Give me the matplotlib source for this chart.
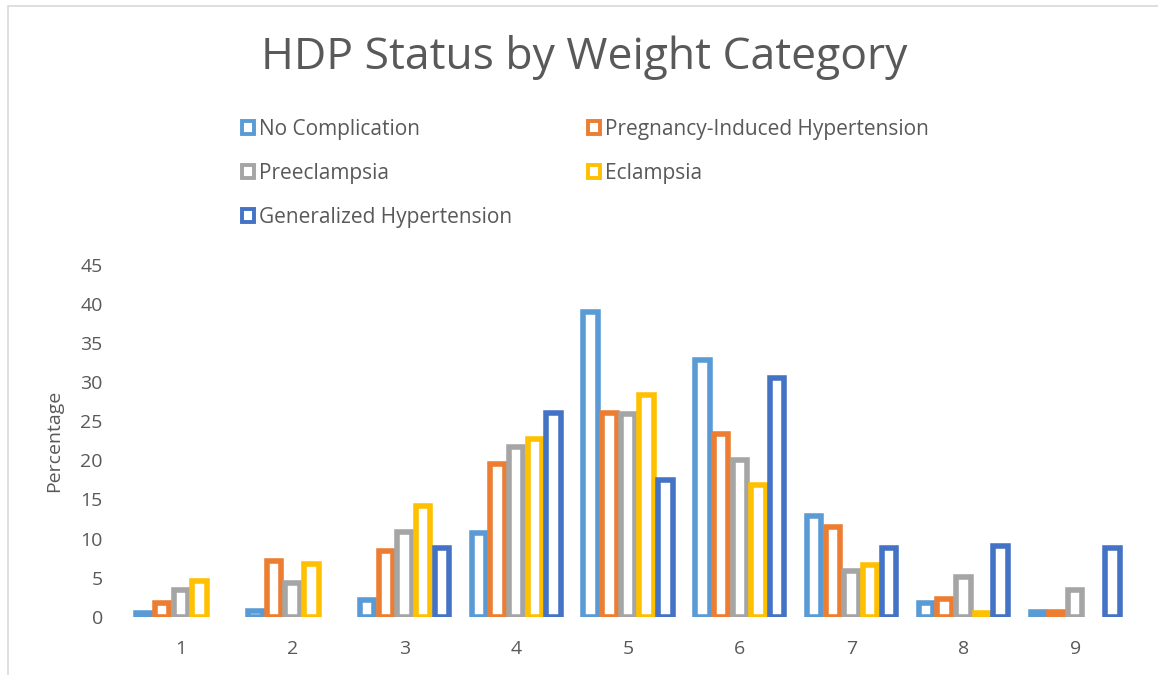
import matplotlib
matplotlib.use("Agg")
import matplotlib.pyplot as plt
from matplotlib.patches import Patch, Rectangle
import numpy as np

plt.rcParams['font.family'] = ['Open Sans', 'DejaVu Sans']

categories = ["1", "2", "3", "4", "5", "6", "7", "8", "9"]
series_names = ["No Complication", "Pregnancy-Induced Hypertension", "Preeclampsia",
                "Eclampsia", "Generalized Hypertension"]
no_complication = [0.5, 0.7, 2.1, 10.7, 39.0, 32.8, 12.9, 1.8, 0.6]
pregnancy_induced = [1.8, 7.1, 8.4, 19.5, 26.1, 23.4, 11.5, 2.3, 0.6]
preeclampsia = [3.4, 4.3, 10.9, 21.7, 25.9, 20.0, 5.9, 5.1, 3.4]
eclampsia = [4.6, 6.7, 14.2, 22.8, 28.4, 16.8, 6.6, 0.5, 0.0]
generalized = [0.0, 0.0, 8.8, 26.1, 17.5, 30.5, 8.8, 9.1, 8.8]
colors = ["#5B9BD5", "#ED7D31", "#A5A5A5", "#FFC000", "#4472C4"]

series = [no_complication, pregnancy_induced, preeclampsia, eclampsia, generalized]

fig = plt.figure(figsize=(11.58, 6.75), dpi=100)
ax = fig.add_axes([125/1158, 1-616.7/675, (1131-125)/1158, (616.7-265)/675])

x = np.arange(len(categories))
step = 0.167
width = 0.13
for i, (vals, col) in enumerate(zip(series, colors)):
    offs = (i - 2) * step
    vals = np.asarray(vals, dtype=float)
    lws = [4.0 if v > 0 else 0 for v in vals]
    bars = ax.bar(x + offs, vals, width=width, facecolor="white", edgecolor=col,
                  linewidth=lws, label=series_names[i], zorder=3)
    for b, v in zip(bars, vals):
        if v <= 0:
            b.set_visible(False)

ax.set_xlim(-0.5, len(categories) - 0.5)
ax.set_ylim(0, 45)
ax.set_yticks(np.arange(0, 46, 5))
ax.set_xticks(x)
ax.set_xticklabels(categories)
tc = "#595959"
ax.tick_params(axis='both', length=0, labelsize=14, colors=tc)
ax.tick_params(axis='x', pad=17)
ax.tick_params(axis='y', pad=16)
for s in ["top", "right", "left", "bottom"]:
    ax.spines[s].set_visible(False)
ax.set_ylabel("Percentage", fontsize=14, color=tc, labelpad=12)

fig.text(584/1158, 1-58/675, "HDP Status by Weight Category", ha="center", va="center",
         fontsize=32, color=tc)

handles = [Patch(facecolor="white", edgecolor=c, linewidth=2.8) for c in colors]
order = [0, 2, 4, 1, 3]
leg = fig.legend([handles[i] for i in order], [series_names[i] for i in order],
                 ncol=2, loc="upper left", bbox_to_anchor=(223/1158, 1-100/675),
                 frameon=False, fontsize=15, labelcolor=tc, handlelength=0.6,
                 handleheight=0.6, handletextpad=0.25, columnspacing=3.6,
                 labelspacing=1.1)

fig.patches.append(Rectangle((8/1158, -0.1), 1.2, 1.1 - 6/675, transform=fig.transFigure,
                             facecolor="none", edgecolor="#D9D9D9", linewidth=1.2))

fig.savefig("out.png", dpi=100, facecolor="white")
